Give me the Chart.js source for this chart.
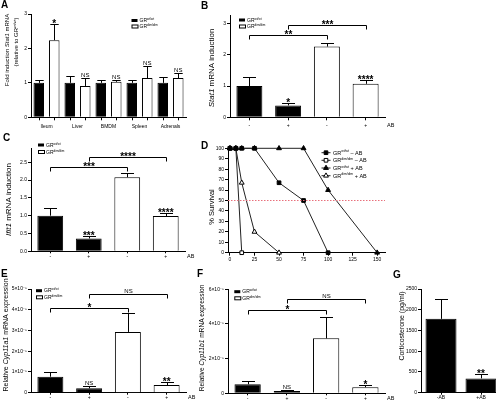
<!DOCTYPE html>
<html>
<head>
<meta charset="utf-8">
<script src="https://cdn.jsdelivr.net/npm/chart.js@4.4.1/dist/chart.umd.min.js"></script>
<style>
  html, body { margin: 0; overflow: hidden; background: #fff; }
  #fig { position: relative; width: 496px; height: 408px; overflow: hidden; background: #fff;
         font-family: 'Liberation Sans', Arial, sans-serif; }
  #fig canvas { position: absolute; }
  .lt { position: absolute; font-weight: bold; font-size: 10px; line-height: 10px; }
</style>
</head>
<body>
<div id="fig">
  <canvas id="cA"></canvas><canvas id="cB"></canvas>
  <canvas id="cC"></canvas><canvas id="cD"></canvas>
  <canvas id="cE"></canvas><canvas id="cF"></canvas>
  <canvas id="cG"></canvas>
  <div class="lt" style="left:1px;top:0px">A</div>
  <div class="lt" style="left:201px;top:1px">B</div>
  <div class="lt" style="left:3px;top:133px">C</div>
  <div class="lt" style="left:201px;top:141px">D</div>
  <div class="lt" style="left:1px;top:269px">E</div>
  <div class="lt" style="left:197px;top:269px">F</div>
  <div class="lt" style="left:393px;top:270px">G</div>
</div>
<script>
const FONT = "'Liberation Sans', Arial, sans-serif";

// A - Stat1 in tissues
const tissues = ['Ileum', 'Liver', 'BMDM', 'Spleen', 'Adrenals'];
const aWt = [1.0, 1.0, 1.0, 1.0, 1.0];
const aWtSem = [0.08, 0.21, 0.07, 0.08, 0.18];
const aDim = [2.24, 0.91, 1.03, 1.14, 1.14];
const aDimSem = [0.46, 0.24, 0.04, 0.34, 0.14];
const aDimSig = ['*', 'NS', 'NS', 'NS', 'NS'];
const aTicks = [0, 1, 2, 3];

// B..F share the -/+ AB groups
const abLabels = ['-', '+', '-', '+'];

// B - Stat1 induction
const bWt = [1.0, 0.38, null, null];
const bWtSem = [0.30, 0.07, null, null];
const bWtSig = ['', '*', '', ''];
const bDim = [null, null, 2.26, 1.07];
const bDimSem = [null, null, 0.13, 0.13];
const bDimSig = ['', '', '', '****'];
const bBrackets = [[0, 2, 2.63, '**'], [1, 3, 2.95, '***']];
const bTicks = [0, 1, 2, 3];

// C - Ifit1 induction
const cWt = [1.0, 0.36, null, null];
const cWtSem = [0.21, 0.07, null, null];
const cWtSig = ['', '***', '', ''];
const cDim = [null, null, 2.08, 0.99];
const cDimSem = [null, null, 0.12, 0.08];
const cDimSig = ['', '', '', '****'];
const cBrackets = [[0, 2, 2.38, '***'], [1, 3, 2.66, '****']];
const cTicks = [0, 0.5, 1.0, 1.5, 2.0, 2.5];

// D - survival (% over time)
const dWtMinus = [[0, 100], [6, 100], [12, 100], [25, 100], [50, 67], [75, 50], [100, 0]];
const dDimMinus = [[0, 100], [6, 100], [12, 0]];
const dWtPlus = [[0, 100], [6, 100], [12, 100], [25, 100], [50, 100], [75, 100], [100, 60], [150, 0]];
const dDimPlus = [[0, 100], [6, 100], [12, 67], [25, 20], [50, 0]];
const dXTicks = [0, 25, 50, 75, 100, 125, 150];
const dYTicks = [0, 10, 20, 30, 40, 50, 60, 70, 80, 90, 100];

// E - Cyp11a1
const eWt = [7.7e-6, 2.1e-6, null, null];
const eWtSem = [2.4e-6, 1.1e-6, null, null];
const eWtSig = ['', 'NS', '', ''];
const eDim = [null, null, 2.93e-5, 3.7e-6];
const eDimSem = [null, null, 9.0e-6, 1.3e-6];
const eDimSig = ['', '', '', '**'];
const eBrackets = [[0, 2, 4.10e-5, '*'], [1, 3, 4.75e-5, 'NS']];
const eTicks = [0, 1e-5, 2e-5, 3e-5, 4e-5, 5e-5];

// F - Cyp11b1
const fWt = [5.2e-6, 1.3e-6, null, null];
const fWtSem = [1.9e-6, 0.4e-6, null, null];
const fWtSig = ['', 'NS', '', ''];
const fDim = [null, null, 3.17e-5, 3.5e-6];
const fDimSem = [null, null, 1.21e-5, 1.3e-6];
const fDimSig = ['', '', '', '*'];
const fBrackets = [[0, 2, 4.81e-5, '*'], [1, 3, 5.45e-5, 'NS']];
const fTicks = [0, 2e-5, 4e-5, 6e-5];

// G - corticosterone
const gLabels = ['-AB', '+AB'];
const gVals = [1780, 345];
const gSem = [490, 100];
const gSig = ['', '**'];
const gTicks = [0, 500, 1000, 1500, 2000, 2500];

const WT = 'GR^wt/wt^', DIM = 'GR^dim/dim^';

Chart.defaults.font.family = FONT;
Chart.defaults.color = '#000';

// text with _italic_ and ^superscript^ parts
function parts(str) {
  return str.split(/(_[^_]+_|\^[^^]+\^)/).filter(Boolean).map(p =>
    p[0] === '_' ? { t: p.slice(1, -1), i: true } :
    p[0] === '^' ? { t: p.slice(1, -1), s: true } : { t: p });
}
function partFont(p, size) {
  return (p.i ? 'italic ' : '') + (p.s ? size * 0.62 : size) + 'px ' + FONT;
}
function rich(ctx, str, x, y, size, center) {
  const ps = parts(str);
  if (center) {
    let w = 0;
    ps.forEach(p => { ctx.font = partFont(p, size); w += ctx.measureText(p.t).width; });
    x -= w / 2;
  }
  ctx.textAlign = 'left';
  ctx.textBaseline = 'alphabetic';
  ps.forEach(p => {
    ctx.font = partFont(p, size);
    ctx.fillText(p.t, x, p.s ? y - size * 0.4 : y);
    x += ctx.measureText(p.t).width;
  });
}
function line(ctx, x1, y1, x2, y2) {
  ctx.beginPath(); ctx.moveTo(x1, y1); ctx.lineTo(x2, y2); ctx.stroke();
}
// significance text whose bottom sits just above y
function mark(ctx, t, x, y) {
  ctx.textAlign = 'center';
  ctx.textBaseline = 'alphabetic';
  if (t.indexOf('*') >= 0) {
    ctx.font = 'bold 10px ' + FONT;
    ctx.fillText(t, x, y + 2.2);
  } else {
    ctx.font = '6px ' + FONT;
    ctx.fillText(t, x, y - 2);
  }
}

const prism = {
  id: 'prism',
  afterDraw(chart, args, o) {
    const ctx = chart.ctx, area = chart.chartArea;
    const ys = chart.scales.y, xs = chart.scales.x;
    const X = v => v - o.ox, Y = v => v - o.oy;
    ctx.save();
    ctx.fillStyle = '#000';
    ctx.strokeStyle = '#000';
    ctx.lineWidth = 1;

    chart.data.datasets.forEach((ds, di) => {
      if (!ds.sem) return;
      chart.getDatasetMeta(di).data.forEach((bar, i) => {
        if (ds.data[i] == null) return;
        const x = Math.round(bar.x) + 0.5;
        const top = Math.round(ys.getPixelForValue(ds.data[i] + ds.sem[i])) + 0.5;
        const cap = Math.min(13, bar.width * 0.8) / 2;
        line(ctx, x, bar.y, x, top);
        line(ctx, x - cap, top, x + cap, top);
        if (o.barTicks) line(ctx, x, area.bottom, x, area.bottom + 3);
        if (ds.sig && ds.sig[i]) mark(ctx, ds.sig[i], bar.x, top);
      });
    });

    (o.brackets || []).forEach(([a, b, v, t]) => {
      const x1 = Math.round(xs.getPixelForValue(a)) + 0.5;
      const x2 = Math.round(xs.getPixelForValue(b)) + 0.5;
      const y = Math.round(ys.getPixelForValue(v)) + 0.5;
      ctx.beginPath();
      ctx.moveTo(x1, y + 4); ctx.lineTo(x1, y); ctx.lineTo(x2, y); ctx.lineTo(x2, y + 4);
      ctx.stroke();
      mark(ctx, t, (x1 + x2) / 2, y);
    });

    if (o.refLine != null) {
      const y = ys.getPixelForValue(o.refLine);
      ctx.save();
      ctx.strokeStyle = '#e8707c';
      ctx.setLineDash([1.5, 1.5]);
      line(ctx, area.left, y, area.right, y);
      ctx.restore();
    }

    if (o.legend) {
      const L = o.legend;
      L.items.forEach((it, k) => {
        const x = X(L.x), y = Y(L.ys[k]);
        if (it.fill === '#000') {
          ctx.fillRect(x, y - 1.5, 6, 3);
        } else {
          ctx.strokeRect(x + 0.5, y - 1.5, 6, 3);
        }
        ctx.fillStyle = '#000';
        rich(ctx, it.text, x + 8, y + L.size * 0.35, L.size);
      });
    }

    if (o.lineLegend) {
      const L = o.lineLegend;
      L.items.forEach((it, k) => {
        const x = X(L.x), y = Y(L.ys[k]);
        ctx.strokeStyle = '#222';
        line(ctx, x, y, x + 9, y);
        ctx.fillStyle = it.fill;
        ctx.strokeStyle = '#000';
        Chart.helpers.drawPoint(ctx, { pointStyle: it.ps, radius: it.ps === 'rect' ? 2.6 : 2.8, rotation: 0, borderWidth: 1 }, x + 4.5, y);
        ctx.fillStyle = '#000';
        rich(ctx, it.text, x + 11.5, y + L.size * 0.35, L.size);
      });
    }

    (o.titles || []).forEach(t => {
      ctx.save();
      ctx.translate(X(t.x), Y(t.y));
      ctx.rotate(-Math.PI / 2);
      rich(ctx, t.text, 0, t.size * 0.35, t.size, true);
      ctx.restore();
    });

    if (o.ab) {
      ctx.font = '5.5px ' + FONT;
      ctx.textAlign = 'left';
      ctx.textBaseline = 'middle';
      ctx.fillText('AB', area.right + 2, Y(o.ab));
    }
    ctx.restore();
  }
};

function yScale(min, max, ticks, fmt) {
  return {
    type: 'linear', min, max,
    afterBuildTicks: s => { s.ticks = ticks.map(v => ({ value: v })); },
    ticks: { font: { size: 5 }, padding: 1, autoSkip: false, callback: fmt },
    grid: { drawOnChartArea: false, tickLength: 3, color: '#000', lineWidth: 1 },
    border: { color: '#000', width: 1 }
  };
}
function xCat(tl, pad) {
  return {
    type: 'category', offset: true,
    ticks: { font: { size: 5 }, padding: pad, autoSkip: false, maxRotation: 0 },
    grid: { drawOnChartArea: false, offset: false, tickLength: tl, color: '#000' },
    border: { color: '#000', width: 1 }
  };
}
const sci = v => Math.abs(v) < 1e-12 ? '0' : Math.round(v * 1e5) + '×10⁻⁵';
const plain = v => String(v);

// box = canvas [left, top, w, h], area = plot [x0, y0, x1, y1], both in page px
function makeChart(id, box, area, type, data, scales, extra) {
  const cv = document.getElementById(id);
  cv.width = box[2]; cv.height = box[3];
  cv.style.left = box[0] + 'px'; cv.style.top = box[1] + 'px';
  scales.x.afterFit = s => { s.height = box[1] + box[3] - area[3]; };
  scales.y.afterFit = s => { s.width = area[0] - box[0]; };
  extra.ox = box[0]; extra.oy = box[1];
  return new Chart(cv, {
    type, data,
    options: {
      responsive: false, maintainAspectRatio: false, animation: false,
      layout: { autoPadding: false,
        padding: { top: area[1] - box[1], right: box[0] + box[2] - area[2], left: 0, bottom: 0 } },
      plugins: { legend: { display: false }, tooltip: { enabled: false }, prism: extra },
      scales
    },
    plugins: [prism]
  });
}
function bars(label, data, sem, sig, fill, cp, bp) {
  return { label, data, sem, sig, backgroundColor: fill, borderColor: '#000', borderWidth: 1,
           categoryPercentage: cp, barPercentage: bp, skipNull: true };
}
const barLegend = (x, ys) => ({ x, ys, size: 5, items: [{ fill: '#000', text: WT }, { fill: '#fff', text: DIM }] });

// A
const axA = xCat(0, 6);
axA.grid = { display: false, drawTicks: false };
makeChart('cA', [0, 0, 200, 135], [31, 14, 186, 117.3], 'bar', {
  labels: tissues,
  datasets: [bars(WT, aWt, aWtSem, null, '#000', 1, 0.68), bars(DIM, aDim, aDimSem, aDimSig, '#fff', 1, 0.68)]
}, { x: axA, y: yScale(0, 3, aTicks, plain) }, {
  barTicks: true,
  legend: barLegend(131.5, [20.5, 26.5]),
  titles: [{ x: 7, y: 50, size: 6, text: 'Fold induction _Stat1_ mRNA' },
           { x: 15.8, y: 42, size: 6, text: '(relative to GR^wt/wt^)' }]
});

// B
makeChart('cB', [200, 0, 200, 135], [230, 15.6, 385, 117.3], 'bar', {
  labels: abLabels,
  datasets: [bars(WT, bWt, bWtSem, bWtSig, '#000', 0.67, 1), bars(DIM, bDim, bDimSem, bDimSig, '#fff', 0.67, 1)]
}, { x: xCat(3, 2), y: yScale(0, 3.25, bTicks, plain) }, {
  brackets: bBrackets, ab: 125,
  legend: barLegend(239, [20, 26.5]),
  titles: [{ x: 211, y: 68, size: 8, text: '_Stat1_ mRNA induction' }]
});

// C
makeChart('cC', [0, 135, 200, 130], [31, 148, 185, 251.3], 'bar', {
  labels: abLabels,
  datasets: [bars(WT, cWt, cWtSem, cWtSig, '#000', 0.67, 1), bars(DIM, cDim, cDimSem, cDimSig, '#fff', 0.67, 1)]
}, { x: xCat(2, 0), y: yScale(0, 2.9, cTicks, v => v.toFixed(1)) }, {
  brackets: cBrackets, ab: 256.5,
  legend: barLegend(38, [145, 152]),
  titles: [{ x: 8.5, y: 199.5, size: 8, text: '_Ifit1_ mRNA induction' }]
});

// D
const pts = a => a.map(([x, y]) => ({ x, y }));
const survival = (label, d, ps, fill, r) => ({
  label, data: pts(d), borderColor: '#222', borderWidth: 1, tension: 0, clip: false,
  pointStyle: ps, pointRadius: r, pointBackgroundColor: fill, pointBorderColor: '#000', pointBorderWidth: 1
});
const dX = yScale(-2, 158, dXTicks, plain);
dX.ticks.padding = 1;
makeChart('cD', [200, 135, 200, 130], [228, 148.3, 385, 252.7], 'line', {
  datasets: [
    survival(WT + ' – AB', dWtMinus, 'rect', '#000', 2.6),
    survival(DIM + ' – AB', dDimMinus, 'rect', '#fff', 2.6),
    survival(WT + ' + AB', dWtPlus, 'triangle', '#000', 2.8),
    survival(DIM + ' + AB', dDimPlus, 'triangle', '#fff', 2.8)
  ]
}, { x: dX, y: yScale(0, 100, dYTicks, plain) }, {
  refLine: 50,
  lineLegend: { x: 321.5, ys: [152.7, 160.3, 168, 175.7], size: 5.5, items: [
    { ps: 'rect', fill: '#000', text: WT + ' – AB' },
    { ps: 'rect', fill: '#fff', text: DIM + ' – AB' },
    { ps: 'triangle', fill: '#000', text: WT + ' + AB' },
    { ps: 'triangle', fill: '#fff', text: DIM + ' + AB' }] },
  titles: [{ x: 211, y: 207, size: 7.5, text: '% Survival' }]
});

// E
makeChart('cE', [0, 265, 200, 143], [31, 289, 186, 392.7], 'bar', {
  labels: abLabels,
  datasets: [bars(WT, eWt, eWtSem, eWtSig, '#000', 0.67, 1), bars(DIM, eDim, eDimSem, eDimSig, '#fff', 0.67, 1)]
}, { x: xCat(2, 0), y: yScale(0, 5e-5, eTicks, sci) }, {
  brackets: eBrackets, ab: 397.5,
  legend: barLegend(36, [290.7, 297.3]),
  titles: [{ x: 6, y: 335, size: 7, text: 'Relative _Cyp11a1_ mRNA expression' }]
});

// F
makeChart('cF', [195, 265, 200, 143], [228, 289.3, 385, 393.3], 'bar', {
  labels: abLabels,
  datasets: [bars(WT, fWt, fWtSem, fWtSig, '#000', 0.67, 1), bars(DIM, fDim, fDimSem, fDimSig, '#fff', 0.67, 1)]
}, { x: xCat(2, 0), y: yScale(0, 6e-5, fTicks, sci) }, {
  brackets: fBrackets, ab: 398,
  legend: barLegend(234.3, [291.7, 298.3]),
  titles: [{ x: 202, y: 338, size: 6.6, text: 'Relative _Cyp11b1_ mRNA expression' }]
});

// G
makeChart('cG', [390, 265, 120, 143], [421, 289, 501, 392.7], 'bar', {
  labels: gLabels,
  datasets: [bars('Corticosterone', gVals, gSem, gSig, '#000', 0.775, 1)]
}, { x: xCat(2, 0), y: yScale(0, 2500, gTicks, plain) }, {
  titles: [{ x: 401.5, y: 326, size: 7, text: 'Corticosterone (pg/ml)' }]
});
</script>
</body>
</html>
